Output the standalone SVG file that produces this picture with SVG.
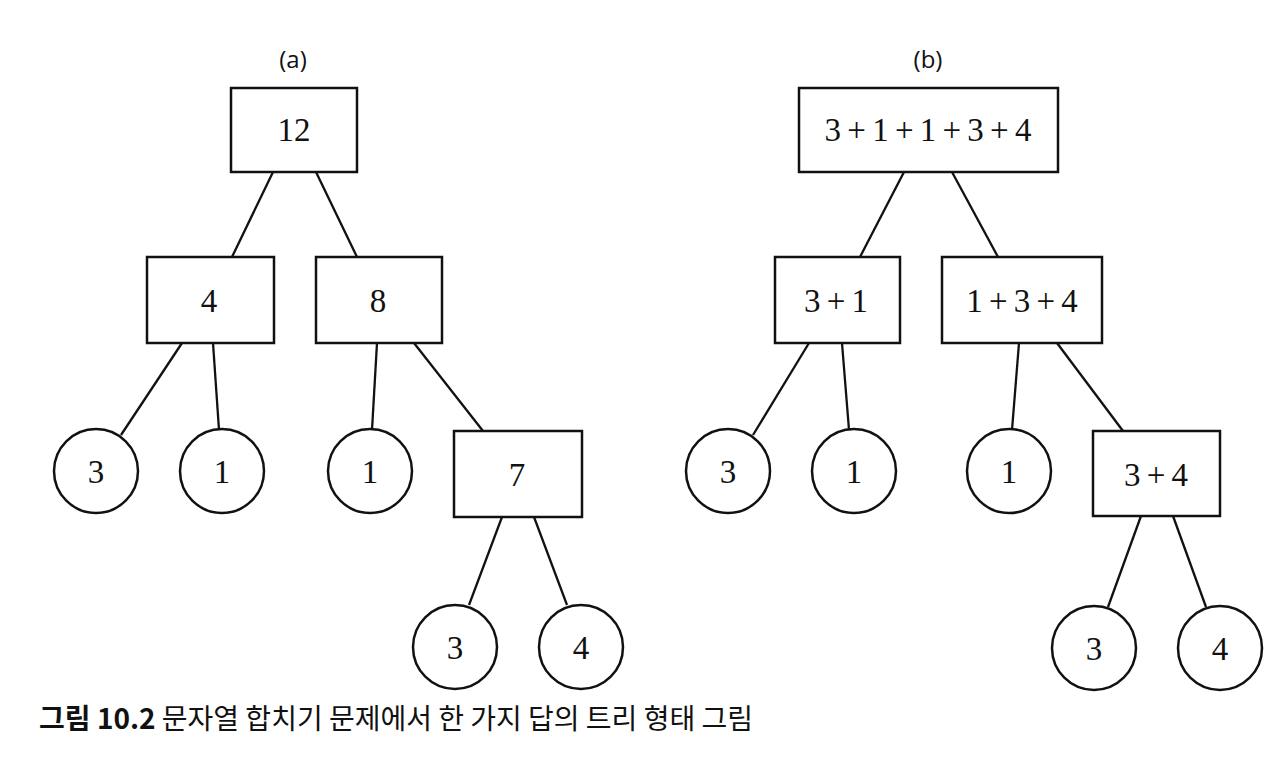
<svg xmlns="http://www.w3.org/2000/svg" width="1280" height="766" viewBox="0 0 1280 766">
<style>
.b{fill:#fff;stroke:#111;stroke-width:2.5}
.e{stroke:#111;stroke-width:2.3;fill:none}
.t{font-family:"Liberation Serif","Times New Roman",serif;font-size:33px;fill:#111;text-anchor:middle;word-spacing:-2px}
.l{font-family:"Open Sans","Noto Sans",sans-serif;font-size:24px;fill:#111;text-anchor:middle}
.c{font-family:"Noto Sans CJK KR","Noto Sans",sans-serif;font-size:28px;fill:#111}
</style>
<rect width="1280" height="766" fill="#fff"/>
<g id="edges">
<line class="e" x1="273" y1="172" x2="232" y2="257"/>
<line class="e" x1="316" y1="172" x2="357" y2="257"/>
<line class="e" x1="182" y1="343" x2="121" y2="435"/>
<line class="e" x1="213" y1="343" x2="219" y2="430"/>
<line class="e" x1="377" y1="343" x2="372" y2="430"/>
<line class="e" x1="414" y1="343" x2="483" y2="431"/>
<line class="e" x1="502" y1="517" x2="469" y2="605"/>
<line class="e" x1="534" y1="517" x2="567" y2="605"/>
<line class="e" x1="904" y1="172" x2="860" y2="257"/>
<line class="e" x1="952" y1="172" x2="998" y2="257"/>
<line class="e" x1="809" y1="343" x2="753" y2="435"/>
<line class="e" x1="842" y1="343" x2="849" y2="430"/>
<line class="e" x1="1019" y1="343" x2="1012" y2="430"/>
<line class="e" x1="1057" y1="343" x2="1123" y2="431"/>
<line class="e" x1="1141" y1="516" x2="1108" y2="607"/>
<line class="e" x1="1173" y1="516" x2="1206" y2="607"/>
</g>
<text class="l" x="293" y="68">(a)</text>
<text class="l" x="928" y="68">(b)</text>
<g id="a12"><rect class="b" x="231" y="88" width="126" height="84"/><text class="t" x="294" y="141">12</text></g>
<g id="a4"><rect class="b" x="147" y="257" width="127" height="86"/><text class="t" x="209" y="312">4</text></g>
<g id="a8"><rect class="b" x="316" y="257" width="126" height="86"/><text class="t" x="378" y="312">8</text></g>
<g id="a3"><circle class="b" cx="96" cy="471" r="42"/><text class="t" x="96" y="483">3</text></g>
<g id="a1"><circle class="b" cx="222" cy="471" r="42"/><text class="t" x="222" y="483">1</text></g>
<g id="a1b"><circle class="b" cx="370" cy="471" r="42"/><text class="t" x="370" y="483">1</text></g>
<g id="a7"><rect class="b" x="454" y="431" width="128" height="86"/><text class="t" x="517" y="486">7</text></g>
<g id="a3b"><circle class="b" cx="455" cy="647" r="42"/><text class="t" x="455" y="659">3</text></g>
<g id="a4b"><circle class="b" cx="581" cy="647" r="42"/><text class="t" x="581" y="659">4</text></g>
<g id="broot"><rect class="b" x="799" y="88" width="259" height="84"/><text class="t" x="928" y="141">3 + 1 + 1 + 3 + 4</text></g>
<g id="b31"><rect class="b" x="775" y="257" width="125" height="86"/><text class="t" x="836" y="312">3 + 1</text></g>
<g id="b134"><rect class="b" x="942" y="257" width="160" height="86"/><text class="t" x="1022" y="312">1 + 3 + 4</text></g>
<g id="b3"><circle class="b" cx="728" cy="471" r="42"/><text class="t" x="728" y="483">3</text></g>
<g id="b1"><circle class="b" cx="854" cy="471" r="42"/><text class="t" x="854" y="483">1</text></g>
<g id="b1b"><circle class="b" cx="1009" cy="471" r="42"/><text class="t" x="1009" y="483">1</text></g>
<g id="b34"><rect class="b" x="1093" y="431" width="127" height="85"/><text class="t" x="1156" y="486">3 + 4</text></g>
<g id="b3b"><circle class="b" cx="1094" cy="648" r="42"/><text class="t" x="1094" y="660">3</text></g>
<g id="b4b"><circle class="b" cx="1220" cy="648" r="42"/><text class="t" x="1220" y="660">4</text></g>
<text class="c" x="39" y="729"><tspan font-weight="bold">그림 10.2</tspan> 문자열 합치기 문제에서 한 가지 답의 트리 형태 그림</text>
</svg>
